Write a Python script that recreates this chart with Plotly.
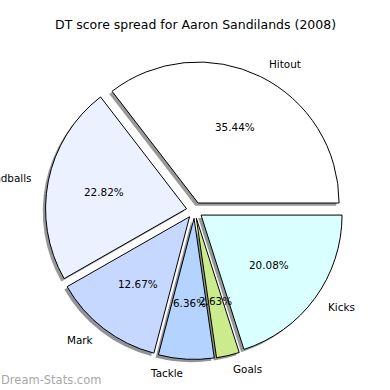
import numpy as np
import plotly.graph_objects as go

categories = ["Hitout", "Handballs", "Mark", "Tackle", "Goals", "Kicks"]
shares = [35.44, 22.82, 12.67, 6.36, 2.63, 20.08]
colors = ["#ffffff", "#ebf1ff", "#c6d8ff", "#b4d4ff", "#cceb8c", "#d9ffff"]
title_text = "DT score spread for Aaron Sandilands (2008)"
watermark = "Dream-Stats.com"

W = H = 390
cx, cy = 194.5, 210.3       # pie centre, px from top-left
r = 141.0                   # radius, px
pull = 0.0575
half = r * (1 + pull)
sh = 2.8                    # shadow offset px (left, down)

total = sum(shares)
# plotly (counterclockwise) puts the first slice clockwise of `rotation`;
# start the first slice at 3 o'clock going counterclockwise like the reference
rot = 90 - shares[0] / total * 360


def dom(dx=0.0, dy=0.0):
    x0 = (cx + dx - half) / W
    x1 = (cx + dx + half) / W
    y0 = 1 - (cy + dy + half) / H
    y1 = 1 - (cy + dy - half) / H
    return dict(x=[x0, x1], y=[y0, y1])


def shadow_col(hexc):
    c = np.array([int(hexc[i:i + 2], 16) for i in (1, 3, 5)], float)
    s = 0.15 * c + 0.5 * 230
    return "rgb(%d,%d,%d)" % tuple(s.astype(int))


fig = go.Figure()
fig.add_trace(go.Pie(
    labels=categories, values=shares, sort=False, direction="counterclockwise",
    rotation=rot, pull=[pull] * len(shares), textinfo="none", hoverinfo="skip",
    marker=dict(colors=[shadow_col(c) for c in colors], line=dict(width=0)),
    domain=dom(-sh, sh), showlegend=False,
))
fig.add_trace(go.Pie(
    labels=categories, values=shares, sort=False, direction="counterclockwise",
    rotation=rot, pull=[pull] * len(shares), textinfo="none",
    marker=dict(colors=colors, line=dict(width=1, color="#000000")),
    domain=dom(), showlegend=False,
))

# text placement (matplotlib-style: labels at 1.1 r, percents at 0.6 r)
start = 0.0
font = dict(family="DejaVu Sans", size=10.4, color="#000000")
for lab, v in zip(categories, shares):
    frac = v / total
    mid = np.deg2rad((start + frac / 2) * 360)
    start += frac
    ex = cx + pull * r * np.cos(mid)
    ey = cy - pull * r * np.sin(mid)
    lx = ex + 1.1 * r * np.cos(mid)
    ly = ey - 1.1 * r * np.sin(mid)
    px = ex + 0.6 * r * np.cos(mid)
    py = ey - 0.6 * r * np.sin(mid)
    fig.add_annotation(x=lx / W, y=1 - ly / H, xref="paper", yref="paper",
                       text=lab, showarrow=False, font=font,
                       xanchor="left" if np.cos(mid) > 0 else "right",
                       yanchor="middle")
    fig.add_annotation(x=px / W, y=1 - py / H, xref="paper", yref="paper",
                       text="%.2f%%" % v, showarrow=False, font=font,
                       xanchor="center", yanchor="middle")

fig.add_annotation(x=195 / W, y=1 - 25 / H, xref="paper", yref="paper",
                   text=title_text, showarrow=False,
                   font=dict(family="DejaVu Sans", size=12.5, color="#000000"),
                   xanchor="center", yanchor="middle")
fig.add_annotation(x=-1 / W, y=1 - 380 / H, xref="paper", yref="paper",
                   text=watermark, showarrow=False,
                   font=dict(family="DejaVu Sans", size=11.5, color="#a8a8a8"),
                   xanchor="left", yanchor="middle")

fig.update_layout(width=W, height=H, margin=dict(l=0, r=0, t=0, b=0),
                  paper_bgcolor="#ffffff", plot_bgcolor="#ffffff")
fig.write_html("out.html", config={"displayModeBar": False},
               post_script="document.body.style.margin='0';"
                           "document.body.style.overflow='hidden';")
